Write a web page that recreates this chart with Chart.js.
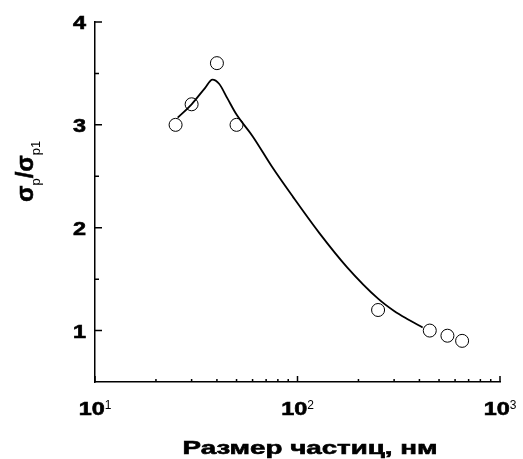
<!DOCTYPE html>
<html>
<head>
<meta charset="utf-8">
<script src="https://cdn.jsdelivr.net/npm/chart.js@4"></script>
<style>
  html, body { margin: 0; padding: 0; background: #fff; }
  #wrap { width: 523px; height: 459px; }
</style>
</head>
<body>
<div id="wrap"><canvas id="myChart"></canvas></div>
<script>
// measured points
const sizes = [25, 30, 40, 50, 250, 450, 550, 650];
const ratios = [3.0, 3.2, 3.6, 3.0, 1.2, 1.0, 0.95, 0.9];
// fitted curve
const fitSizes = [25.6, 30, 35, 38, 41, 45, 50, 60, 75, 95, 128, 175, 250, 300, 350, 415];
const fitRatios = [3.07, 3.2, 3.36, 3.44, 3.4, 3.26, 3.1, 2.89, 2.59, 2.3, 1.95, 1.62, 1.31, 1.19, 1.11, 1.03];
// axis ticks
const yMajor = [1, 2, 3, 4];
const yMinor = [1.5, 2.5, 3.5];
const xMajor = [10, 100, 1000];
const xMinor = [20, 30, 40, 50, 60, 70, 80, 90, 200, 300, 400, 500, 600, 700, 800, 900];
const xExp = ['1', '2', '3'];

const FONT = '"Liberation Sans", Arial, sans-serif';

// wide, heavy lettering
function wideText(ctx, str, x, y, font, sx, align) {
    ctx.save();
    ctx.font = font;
    const w = ctx.measureText(str).width * sx;
    let left = x;
    if (align === 'center') left = x - w / 2;
    if (align === 'right') left = x - w;
    ctx.translate(left, y);
    ctx.scale(sx, 1);
    ctx.textAlign = 'left';
    ctx.lineWidth = 0.6;
    ctx.fillText(str, 0, 0);
    ctx.strokeText(str, 0, 0);
    ctx.restore();
    return w;
}

const axisDecor = {
    id: 'axisDecor',
    afterDraw(chart) {
        const ctx = chart.ctx;
        const x = chart.scales.x, y = chart.scales.y;
        const left = chart.chartArea.left, bottom = chart.chartArea.bottom;
        ctx.save();
        ctx.strokeStyle = '#000';
        ctx.fillStyle = '#000';
        ctx.lineWidth = 1.5;
        ctx.beginPath();
        yMajor.forEach(v => { const p = y.getPixelForValue(v); ctx.moveTo(left, p); ctx.lineTo(left + 7, p); });
        yMinor.forEach(v => { const p = y.getPixelForValue(v); ctx.moveTo(left, p); ctx.lineTo(left + 4, p); });
        xMajor.forEach(v => { const p = x.getPixelForValue(v); ctx.moveTo(p, bottom); ctx.lineTo(p, bottom - 6); });
        xMinor.forEach(v => { const p = x.getPixelForValue(v); ctx.moveTo(p, bottom); ctx.lineTo(p, bottom - 3); });
        ctx.stroke();

        // y tick labels
        ctx.textBaseline = 'middle';
        yMajor.forEach(v => {
            wideText(ctx, String(v), left - 9, y.getPixelForValue(v) + 2, 'bold 18px ' + FONT, 1.3, 'right');
        });

        // x tick labels with exponents
        ctx.textBaseline = 'alphabetic';
        xMajor.forEach((v, i) => {
            ctx.font = 'bold 18px ' + FONT;
            const wb = ctx.measureText('10').width * 1.3;
            ctx.font = '12px ' + FONT;
            const we = ctx.measureText(xExp[i]).width;
            const p = x.getPixelForValue(v);
            const start = p - (wb + we) / 2;
            wideText(ctx, '10', start, bottom + 33, 'bold 18px ' + FONT, 1.3, 'left');
            ctx.font = '12px ' + FONT;
            ctx.textAlign = 'left';
            ctx.fillText(xExp[i], start + wb, bottom + 27);
        });

        // x title
        wideText(ctx, 'Размер частиц, нм', 310, 454, 'bold 19px ' + FONT, 1.46, 'center');

        // y title, rotated
        ctx.translate(33, 202);
        ctx.rotate(-Math.PI / 2);
        ctx.textAlign = 'left';
        ctx.textBaseline = 'alphabetic';
        ctx.lineWidth = 0.6;
        let pos = 0;
        const bigF = 'bold 24px ' + FONT, subF = '13px ' + FONT;
        const parts = [['σ', bigF, 0], ['p', subF, 7], ['/', bigF, 0], ['σ', bigF, 0], ['p1', subF, 7]];
        parts.forEach(([t, f, dy]) => {
            ctx.font = f;
            ctx.fillText(t, pos, dy);
            if (f === bigF) ctx.strokeText(t, pos, dy);
            pos += ctx.measureText(t).width;
        });
        ctx.restore();
    }
};

new Chart(document.getElementById('myChart'), {
    type: 'scatter',
    data: {
        datasets: [{
            label: 'fit',
            data: fitSizes.map((s, i) => ({ x: s, y: fitRatios[i] })),
            showLine: true,
            borderColor: '#000',
            borderWidth: 1.8,
            pointRadius: 0,
            cubicInterpolationMode: 'monotone'
        }, {
            label: 'data',
            data: sizes.map((s, i) => ({ x: s, y: ratios[i] })),
            pointRadius: 6.5,
            pointBackgroundColor: '#fff',
            pointBorderColor: '#000',
            pointBorderWidth: 1,
            showLine: false
        }]
    },
    options: {
        responsive: true,
        maintainAspectRatio: false,
        animation: false,
        layout: { padding: { left: 95, top: 22, right: 23, bottom: 77 } },
        plugins: { legend: { display: false }, tooltip: { enabled: false } },
        scales: {
            x: {
                type: 'logarithmic',
                min: 10,
                max: 1000,
                ticks: { display: false },
                grid: { display: false, drawTicks: false },
                border: { display: true, color: '#000', width: 1.5 }
            },
            y: {
                min: 0.5,
                max: 4,
                ticks: { display: false },
                grid: { display: false, drawTicks: false },
                border: { display: true, color: '#000', width: 1.5 }
            }
        }
    },
    plugins: [axisDecor]
});
</script>
</body>
</html>
